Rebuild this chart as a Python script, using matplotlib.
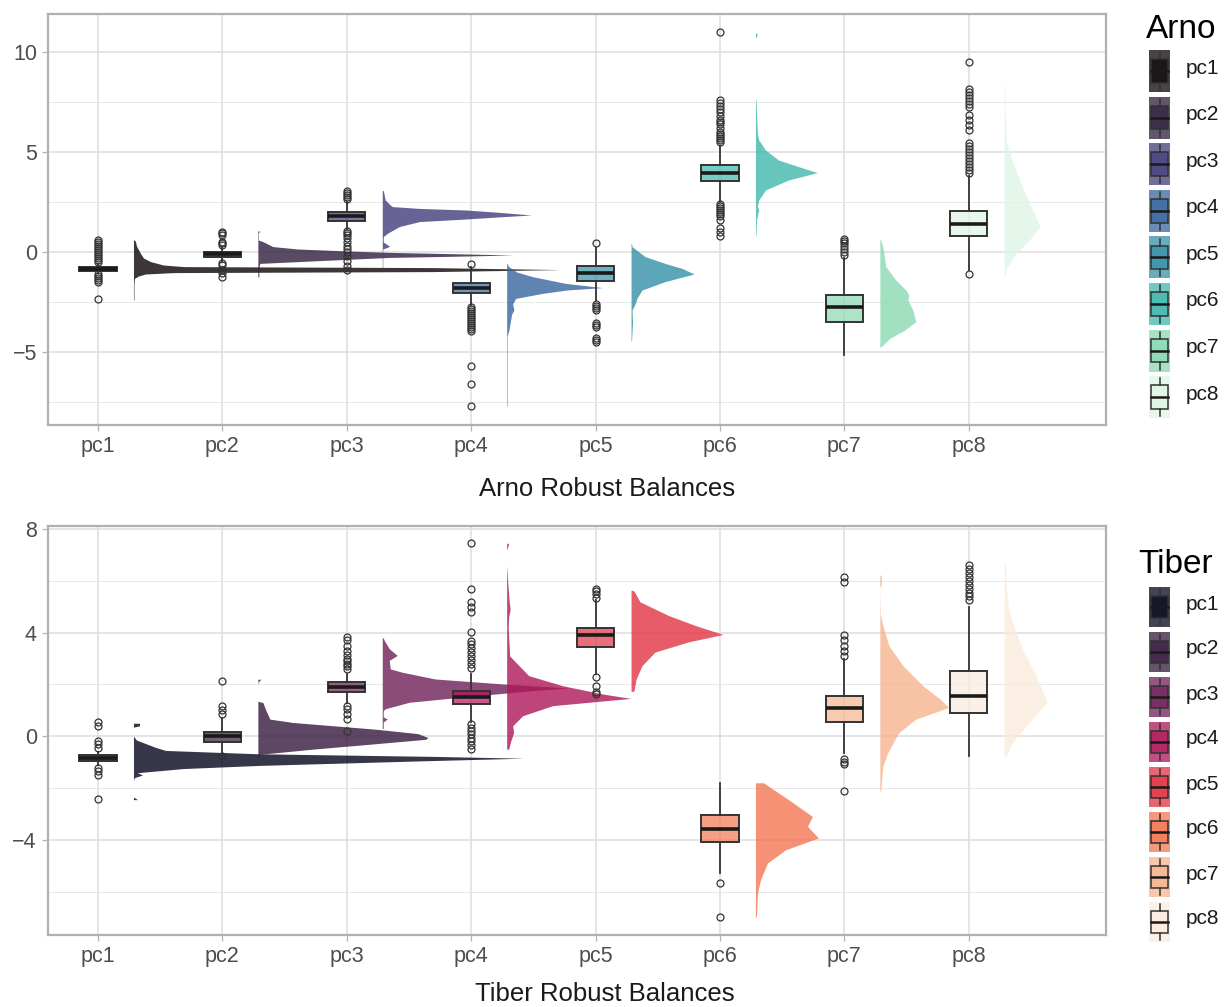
import numpy as np
import matplotlib
matplotlib.use('Agg')
import matplotlib.pyplot as plt
from matplotlib.patches import Rectangle
from matplotlib.colors import to_rgba

plt.rcParams['font.family'] = ['Liberation Sans', 'DejaVu Sans']

cats = ['pc1', 'pc2', 'pc3', 'pc4', 'pc5', 'pc6', 'pc7', 'pc8']

# viridis "mako" / "rocket" (8 levels)
arno_colors = ['#0B0405', '#2E1E3C', '#413D7B', '#37659E', '#348FA7', '#40B7AD', '#8AD9B1', '#DEF5E5']
tiber_colors = ['#03051A', '#36193E', '#701F57', '#AE1759', '#E13342', '#F37651', '#F6B48E', '#FAEBDD']

# ---------------- Arno: box stats ----------------
arno_med = [-0.85, -0.10, 1.80, -1.82, -1.07, 3.97, -2.77, 1.40]
arno_q1 = [-0.95, -0.23, 1.57, -2.07, -1.43, 3.57, -3.48, 0.80]
arno_q3 = [-0.75, 0.02, 2.02, -1.53, -0.70, 4.35, -2.15, 2.07]
arno_lo = [-1.05, -0.50, 1.15, -2.65, -2.40, 2.50, -5.15, -0.90]
arno_hi = [-0.60, 0.27, 2.50, -0.75, 0.20, 5.30, -0.30, 3.80]
arno_fliers = [
    [0.6, 0.5, 0.4, 0.3, 0.2, 0.1, 0.0, -0.1, -0.2, -0.3, -0.4, -0.5, -1.1, -1.2, -1.3, -1.4, -1.5, -2.35],
    [1.02, 0.95, 0.85, 0.5, 0.43, 0.35, -0.57, -0.65, -0.9, -1.05, -1.23],
    [3.05, 2.95, 2.85, 2.75, 2.65, 1.05, 0.95, 0.85, 0.7, 0.5, 0.3, 0.15, 0.0, -0.2, -0.45, -0.7, -0.9],
    [-0.6, -2.75, -2.85, -2.95, -3.05, -3.15, -3.25, -3.35, -3.45, -3.55, -3.65, -3.75, -3.85, -3.95,
     -5.7, -6.6, -7.7],
    [0.43, -2.6, -2.7, -2.8, -2.9, -3.55, -3.65, -3.75, -4.3, -4.4, -4.5],
    [11.0, 7.6, 7.45, 7.3, 7.15, 7.0, 6.8, 6.6, 6.5, 6.4, 6.2, 6.0, 5.9, 5.8, 5.7, 5.6, 5.5,
     2.4, 2.3, 2.2, 2.1, 2.0, 1.9, 1.8, 1.6, 1.2, 1.0, 0.8],
    [0.65, 0.55, 0.45, 0.3, 0.15, 0.0, -0.15],
    [9.5, 8.15, 8.0, 7.85, 7.7, 7.55, 7.4, 7.27, 6.85, 6.6, 6.35, 6.1, 5.43, 5.3, 5.15, 5.0, 4.85,
     4.7, 4.55, 4.4, 4.25, 4.1, 3.95, -1.1],
]

# ---------------- Arno: half-violin density profiles ----------------
arno_dens_y = [
    [0.6, 0.52, 0.3, -0.07, -0.3, -0.48, -0.65, -0.73, -0.78, -0.88, -0.98, -1.03, -1.1, -1.2, -1.32, -1.6, -2.4],
    [1.05, 0.95, 0.6, 0.52, 0.27, 0.15, 0.05, -0.02, -0.1, -0.15, -0.22, -0.27, -0.4, -0.57, -0.8, -1.25],
    [3.08, 2.6, 2.35, 2.27, 2.18, 2.1, 1.97, 1.85, 1.75, 1.65, 1.52, 1.27, 0.93, 0.77, 0.5, 0.3, 0.25, 0.15, -0.9],
    [-0.57, -0.73, -1.0, -1.23, -1.57, -1.78, -1.9, -2.07, -2.32, -2.6, -2.9, -3.1, -3.4, -3.9, -4.2, -5.5, -7.7],
    [0.43, 0.27, -0.23, -0.57, -0.82, -1.1, -1.48, -1.9, -2.3, -2.57, -2.9, -3.5, -4.45],
    [10.95, 10.8, 10.7, 7.7, 7.6, 6.5, 5.9, 5.6, 5.1, 4.6, 4.27, 3.97, 3.6, 3.1, 2.6, 2.3, 2.1, 1.6, 0.8],
    [0.65, 0.27, -0.73, -1.4, -1.9, -2.15, -2.4, -2.9, -3.48, -3.9, -4.32, -4.75],
    [8.35, 7.0, 6.0, 5.43, 4.27, 2.93, 1.93, 1.27, 0.6, -0.07, -0.73, -1.15],
]
arno_dens_w = [
    [1, 2, 3, 7, 10, 17, 30, 50, 300, 427, 300, 40, 12, 5, 1, 0.5, 0.5],
    [2, 0.5, 0.5, 5, 15, 40, 90, 132, 210, 255, 190, 132, 75, 2, 1, 1],
    [1, 3, 8, 10, 37, 84, 120, 149, 115, 84, 37, 17, 5, 1, 1, 7, 6, 0.5, 0.5],
    [0.5, 2, 10, 25.7, 59, 96, 60, 35.7, 9, 6, 7.3, 5, 4, 2.3, 0.5, 0.5, 0.5],
    [0.5, 1, 14, 34, 51, 63, 34, 11, 6, 4.3, 1, 1.5, 0.5],
    [1.5, 1.5, 0, 0, 0.5, 1.5, 2, 3.3, 10, 23, 43, 62, 33, 10, 3.3, 2, 3.3, 1, 0.5],
    [0.5, 3, 6, 16, 26, 29, 28, 33, 36, 25, 10, 1],
    [0.5, 1, 1.5, 2.5, 10, 21, 30, 36, 25, 12, 3, 0.5],
]

# ---------------- Tiber: box stats ----------------
tiber_med = [-0.83, -0.01, 1.89, 1.50, 3.90, -3.59, 1.07, 1.57]
tiber_q1 = [-0.96, -0.22, 1.69, 1.24, 3.43, -4.09, 0.56, 0.88]
tiber_q3 = [-0.74, 0.17, 2.08, 1.76, 4.18, -3.03, 1.54, 2.50]
tiber_lo = [-1.10, -0.65, 1.30, 0.53, 2.40, -5.30, -0.63, -0.76]
tiber_hi = [-0.60, 0.72, 2.40, 2.40, 5.25, -1.80, 2.99, 5.00]
tiber_fliers = [
    [0.53, 0.4, -0.18, -0.3, -0.44, -1.22, -1.35, -1.48, -2.42],
    [2.15, 1.15, 1.0, 0.87, -0.78],
    [3.83, 3.7, 3.5, 3.3, 3.15, 3.0, 2.9, 2.8, 2.7, 2.6, 1.18, 1.05, 0.85, 0.66, 0.21],
    [7.45, 5.7, 5.19, 5.0, 4.8, 4.04, 3.69, 3.55, 3.4, 3.25, 3.1, 2.95, 2.8, 2.65,
     0.47, 0.33, 0.2, 0.07, -0.07, -0.2, -0.35, -0.5],
    [5.7, 5.6, 5.5, 5.35, 2.27, 1.95, 1.72, 1.63],
    [-5.66, -6.98],
    [6.16, 5.97, 3.9, 3.7, 3.5, 3.3, 3.1, -0.87, -1.0, -1.09, -2.12],
    [6.61, 6.45, 6.3, 6.15, 6.0, 5.85, 5.7, 5.55, 5.4, 5.25],
]

# ---------------- Tiber: half-violin density profiles ----------------
tiber_dens_y = [
    [0.5, 0.4, 0.35, 0.0, -0.15, -0.43, -0.55, -0.68, -0.78, -0.85, -0.95, -1.13, -1.25, -1.41, -1.5, -1.6,
     -1.7, -2.35, -2.45],
    [2.2, 2.1, 2.0, 1.35, 1.3, 1.0, 0.66, 0.53, 0.27, 0.1, -0.05, -0.12, -0.3, -0.5, -0.7, -0.8],
    [3.8, 3.7, 3.38, 3.12, 2.93, 2.6, 2.47, 2.21, 2.02, 1.86, 1.76, 1.5, 1.31, 1.06, 0.98, 0.75, 0.66, 0.55, 0.3],
    [7.45, 7.3, 7.2, 6.6, 6.0, 5.2, 4.9, 4.6, 4.2, 3.5, 3.1, 2.86, 2.34, 1.95, 1.63, 1.46, 1.18, 0.79, 0.4,
     0.14, -0.2, -0.5],
    [5.64, 5.6, 5.19, 4.67, 4.28, 3.93, 3.64, 3.25, 2.73, 2.2, 1.75, 1.72],
    [-1.8, -2.45, -3.1, -3.48, -3.93, -4.39, -4.9, -5.55, -6.07, -6.98],
    [6.22, 5.85, 5.75, 4.7, 4.28, 3.5, 2.73, 1.95, 1.44, 1.11, 0.66, 0.14, -0.63, -1.15, -2.12],
    [6.68, 5.8, 5.0, 4.42, 3.38, 2.34, 1.31, 0.53, -0.25, -0.76],
]
tiber_dens_w = [
    [6, 6, 0, 0, 3, 22, 32, 125, 300, 390, 290, 125, 50, 4, 9, 1, 0, 0, 4],
    [3, 0.5, 0, 0, 5, 8, 12, 35, 118, 160, 170, 168, 115, 55, 2, 1],
    [1, 2, 7, 15, 7, 8, 20, 53, 120, 187, 150, 77, 27, 3, 1, 1, 5, 1, 1],
    [2, 1, 0, 0, 1, 2.5, 3.5, 2, 1.5, 2.5, 3, 9, 22, 56, 96, 124, 46, 16, 6, 7, 4, 2],
    [1, 3, 9, 37, 64, 92, 57, 24, 11, 5, 3, 0.5],
    [8, 33, 57, 52, 63, 30, 12, 5, 2, 1],
    [1.5, 1.5, 0, 0.5, 3, 9, 23, 43, 60, 69, 36, 19, 8, 3, 1],
    [1, 2, 4, 8, 18, 32, 43, 25, 8, 2],
]

DENS_SCALE = 1 / 124.4      # density units -> x-axis units
NUDGE = 0.285               # half-violin offset from box centre
BOX_W = 0.3
EDGE = '#333333'

pos = np.arange(1, len(cats) + 1)


def raincloud(ax, med, q1, q3, lo, hi, fliers, dy, dw, colors, ylim, major, minor, major_lbl):
    for i, c in enumerate(colors):
        y = np.array(dy[i])
        w = np.array(dw[i]) * DENS_SCALE
        x0 = pos[i] + NUDGE
        ax.fill_betweenx(y, x0, x0 + w, color=c, alpha=0.8, lw=0, zorder=2)
    stats = [dict(med=med[i], q1=q1[i], q3=q3[i], whislo=lo[i], whishi=hi[i], fliers=fliers[i])
             for i in range(len(cats))]
    bp = ax.bxp(stats, positions=pos, widths=BOX_W, patch_artist=True, showcaps=False, zorder=3,
                boxprops=dict(edgecolor=EDGE, linewidth=1.4),
                whiskerprops=dict(color=EDGE, linewidth=1.3),
                medianprops=dict(color='#1a1a1a', linewidth=2.6),
                flierprops=dict(marker='o', markerfacecolor='none', markeredgecolor=EDGE,
                                markersize=5, markeredgewidth=0.9))
    for patch, c in zip(bp['boxes'], colors):
        patch.set_facecolor(to_rgba(c, 0.7))

    ax.set_xlim(0.598, 9.103)
    ax.set_ylim(*ylim)
    ax.set_xticks(pos)
    ax.set_xticklabels(cats)
    ax.set_yticks(major)
    ax.set_yticklabels(major_lbl)
    ax.set_yticks(minor, minor=True)
    ax.grid(which='major', color='#dedede', linewidth=1.1)
    ax.grid(which='minor', axis='y', color='#e8e8e8', linewidth=0.7)
    ax.set_axisbelow(True)
    ax.tick_params(which='major', length=4.5, width=0.9, color='#b3b3b3', labelsize=15.5,
                   labelcolor='#4d4d4d', pad=3.5)
    ax.tick_params(which='minor', length=0)
    for s in ax.spines.values():
        s.set_color('#b0b0b0')
        s.set_linewidth(1.6)


fig = plt.figure(figsize=(12.24, 10.07), dpi=100)
W, H = 1224, 1007

ax1 = fig.add_axes([48 / W, 1 - 425 / H, 1058 / W, 411 / H])
raincloud(ax1, arno_med, arno_q1, arno_q3, arno_lo, arno_hi, arno_fliers, arno_dens_y, arno_dens_w,
          arno_colors, (-8.65, 11.9), [-5, 0, 5, 10], [-7.5, -2.5, 2.5, 7.5], ['\u22125', '0', '5', '10'])

ax2 = fig.add_axes([48 / W, 1 - 935 / H, 1058 / W, 409 / H])
raincloud(ax2, tiber_med, tiber_q1, tiber_q3, tiber_lo, tiber_hi, tiber_fliers, tiber_dens_y, tiber_dens_w,
          tiber_colors, (-7.68, 8.12), [-4, 0, 4, 8], [-6, -2, 2, 6], ['\u22124', '0', '4', '8'])

fig.text(607 / W, 1 - 496 / H, 'Arno Robust Balances', ha='center', va='baseline', fontsize=18.5,
         color='#1a1a1a')
fig.text(605 / W, 1 - 1001 / H, 'Tiber Robust Balances', ha='center', va='baseline', fontsize=18.5,
         color='#1a1a1a')

# ---------------- legends (drawn in figure pixel space) ----------------
ov = fig.add_axes([0, 0, 1, 1])
ov.set_xlim(0, W)
ov.set_ylim(H, 0)
ov.axis('off')


def legend(title, tx, ty, colors, top, step, kh):
    ov.text(tx, ty, title, fontsize=24, color='black', ha='left', va='baseline')
    kx, kw = 1149, 21
    for i, c in enumerate(colors):
        y0 = top + i * step
        ov.add_patch(Rectangle((kx, y0), kw, kh, facecolor=to_rgba(c, 0.75), lw=0))
        bx, bw = kx + 0.1 * kw, 0.8 * kw
        by, bh = y0 + 0.22 * kh, 0.56 * kh
        ov.add_patch(Rectangle((bx, by), bw, bh, facecolor=to_rgba(c, 0.7), edgecolor=EDGE, lw=1.1))
        ov.plot([kx + kw / 2] * 2, [y0 + 0.05 * kh, by], color=EDGE, lw=1.1)
        ov.plot([kx + kw / 2] * 2, [by + bh, y0 + 0.95 * kh], color=EDGE, lw=1.1)
        ov.plot([bx, bx + bw], [y0 + kh / 2] * 2, color='#1a1a1a', lw=1.8)
        ov.text(1186, y0 + kh / 2 - 3, cats[i], fontsize=15, color='#1a1a1a', ha='left', va='center')


legend('Arno', 1146, 38, arno_colors, 50, 46.6, 42)
legend('Tiber', 1138, 573, tiber_colors, 587, 45, 40)

fig.savefig('out.png', dpi=100)
